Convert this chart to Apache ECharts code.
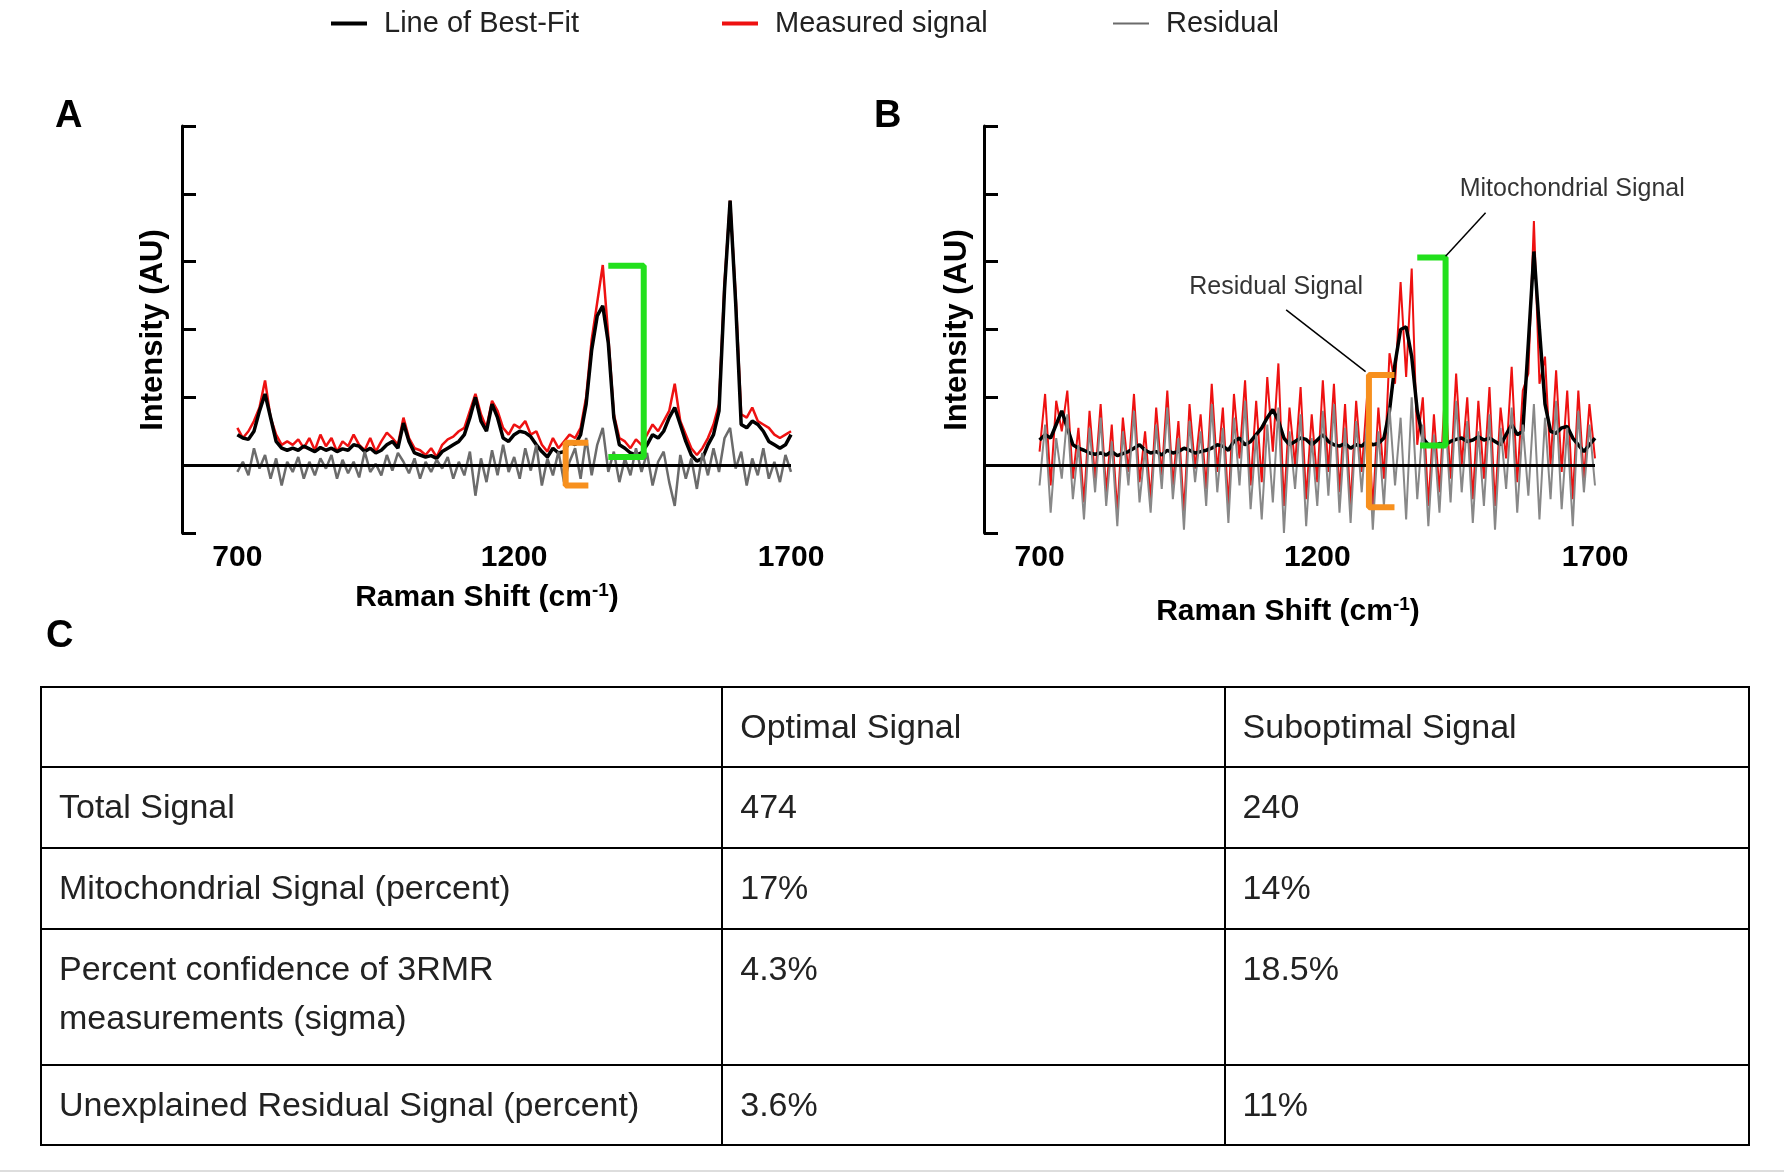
<!DOCTYPE html>
<html>
<head>
<meta charset="UTF-8">
<script src="https://cdn.jsdelivr.net/npm/echarts@6/dist/echarts.min.js"></script>
<title>Raman spectra</title>
<style>
body { margin:0; background:#fff; font-family:"Liberation Sans", Arial, sans-serif; }
#chart { position:absolute; left:0; top:0; width:1784px; height:1176px; }
#tbl { position:absolute; left:40px; top:686px; width:1710px; border-collapse:collapse; font-size:34px; color:#222; }
#tbl td { border:2px solid #000; padding:14px 0 0 17px; vertical-align:top; line-height:49px; box-sizing:border-box; }
#foot { position:absolute; left:0; top:1170px; width:1784px; height:2px; background:#ddd; }
</style>
</head>
<body>
<div id="chart"></div>
<table id="tbl"></table>
<div id="foot"></div>
<script>
// sampled every 10 cm-1 from 700 to 1700
var shift = [];
for (var s = 700; s <= 1700; s += 10) shift.push(s);

var fitA = [0.45,0.40,0.38,0.50,0.80,1.05,0.70,0.35,0.25,0.22,
  0.25,0.22,0.28,0.24,0.20,0.26,0.22,0.25,0.20,0.24,
  0.22,0.30,0.28,0.20,0.25,0.18,0.22,0.30,0.35,0.25,
  0.62,0.35,0.18,0.15,0.12,0.14,0.10,0.20,0.25,0.30,
  0.35,0.45,0.70,1.00,0.65,0.50,0.90,0.70,0.40,0.35,
  0.45,0.50,0.48,0.42,0.30,0.20,0.12,0.25,0.18,0.20,
  0.35,0.30,0.45,0.90,1.70,2.20,2.35,1.80,0.70,0.30,
  0.25,0.18,0.15,0.18,0.30,0.45,0.40,0.50,0.70,0.85,
  0.60,0.35,0.15,0.06,0.10,0.30,0.45,0.80,2.60,3.90,
  2.40,0.60,0.55,0.65,0.60,0.50,0.35,0.30,0.25,0.30,0.45];
var measA = [0.55,0.40,0.50,0.65,0.85,1.25,0.70,0.45,0.30,0.35,
  0.30,0.38,0.25,0.40,0.22,0.45,0.28,0.40,0.20,0.35,
  0.28,0.45,0.30,0.22,0.40,0.20,0.35,0.48,0.40,0.30,
  0.70,0.40,0.25,0.22,0.15,0.25,0.12,0.30,0.38,0.42,
  0.50,0.55,0.80,1.05,0.75,0.55,0.95,0.80,0.55,0.45,
  0.60,0.55,0.65,0.45,0.50,0.30,0.20,0.40,0.25,0.35,
  0.45,0.40,0.55,1.00,1.85,2.40,2.95,1.90,0.75,0.40,
  0.35,0.25,0.38,0.30,0.45,0.60,0.50,0.65,0.80,1.20,
  0.65,0.45,0.25,0.15,0.25,0.40,0.60,0.90,2.70,3.90,
  2.50,0.75,0.70,0.85,0.65,0.60,0.55,0.45,0.40,0.45,0.50];
var residA = [-0.10,0.05,-0.15,0.25,-0.05,0.15,-0.20,0.10,-0.30,0.05,
  -0.10,0.12,-0.20,0.05,-0.15,0.10,-0.05,0.15,-0.20,0.08,
  -0.12,0.05,-0.18,0.20,-0.10,0.02,-0.15,0.15,-0.08,0.18,
  0.05,-0.12,0.10,-0.20,0.05,-0.10,0.08,-0.05,0.12,-0.20,
  0.05,-0.15,0.20,-0.45,0.10,-0.25,0.22,-0.15,0.30,-0.10,
  0.12,-0.20,0.25,-0.08,0.30,-0.30,0.10,-0.15,0.20,-0.25,
  0.05,0.25,-0.20,0.40,-0.15,0.30,0.55,-0.10,0.20,-0.25,
  0.10,-0.15,0.25,-0.10,0.18,-0.30,0.05,0.20,-0.25,-0.60,
  0.15,-0.20,0.10,-0.35,0.18,-0.15,0.25,-0.10,0.40,0.55,
  -0.05,0.20,-0.30,0.10,-0.15,0.25,-0.20,0.05,-0.25,0.15,-0.10];

var fitB = [0.37,0.45,0.40,0.60,0.80,0.55,0.30,0.25,0.22,0.18,
  0.16,0.18,0.15,0.20,0.14,0.17,0.20,0.25,0.30,0.22,
  0.18,0.20,0.15,0.22,0.18,0.20,0.25,0.22,0.18,0.20,
  0.22,0.25,0.30,0.28,0.22,0.35,0.40,0.30,0.35,0.45,
  0.55,0.70,0.82,0.65,0.40,0.30,0.35,0.40,0.38,0.30,
  0.37,0.45,0.35,0.30,0.28,0.32,0.25,0.30,0.28,0.35,
  0.30,0.32,0.40,0.80,1.50,2.00,2.04,1.60,0.80,0.40,
  0.30,0.28,0.32,0.30,0.35,0.38,0.40,0.35,0.37,0.42,
  0.37,0.40,0.35,0.30,0.45,0.60,0.45,0.50,1.80,3.15,
  2.00,0.90,0.50,0.47,0.55,0.57,0.40,0.30,0.20,0.30,0.40];
var measB = [0.20,1.05,-0.30,0.95,0.50,1.10,-0.20,0.55,-0.55,0.80,
  -0.20,0.90,-0.40,0.60,-0.70,0.70,-0.10,1.05,-0.25,0.50,
  -0.50,0.85,-0.15,1.10,-0.30,0.65,-0.70,0.90,-0.05,0.75,
  -0.35,1.20,-0.10,0.85,-0.60,1.05,0.10,1.25,-0.30,0.95,
  -0.25,1.30,0.20,1.50,-0.60,0.85,0.00,1.15,-0.50,0.75,
  -0.25,1.25,-0.10,1.20,-0.40,0.90,-0.60,0.95,-0.10,1.05,
  -0.65,0.85,-0.20,1.65,1.20,2.70,1.30,2.90,0.30,1.00,
  -0.60,0.75,-0.40,1.10,-0.20,1.35,0.00,1.00,-0.50,0.95,
  -0.20,1.15,-0.60,0.85,0.10,1.45,-0.25,1.10,1.35,3.60,
  1.20,1.60,0.00,1.40,-0.10,1.10,-0.50,1.10,-0.20,0.90,0.10];
var residB = [-0.30,0.60,-0.70,0.40,-0.20,0.75,-0.50,0.30,-0.80,0.55,
  -0.40,0.70,-0.60,0.35,-0.90,0.50,-0.30,0.80,-0.55,0.25,
  -0.70,0.60,-0.35,0.85,-0.50,0.40,-0.95,0.65,-0.25,0.50,
  -0.60,0.90,-0.40,0.55,-0.85,0.70,-0.30,0.95,-0.65,0.45,
  -0.80,0.60,-0.55,0.85,-1.00,0.50,-0.35,0.75,-0.90,0.40,
  -0.60,0.80,-0.45,0.90,-0.70,0.55,-0.85,0.65,-0.40,0.70,
  -0.95,0.50,-0.60,0.85,-0.30,0.70,-0.80,1.00,-0.50,0.60,
  -0.90,0.45,-0.70,0.80,-0.55,0.95,-0.40,0.65,-0.85,0.50,
  -0.60,0.75,-0.95,0.55,-0.35,0.85,-0.70,0.60,-0.45,0.90,
  -0.80,0.70,-0.50,0.95,-0.65,0.55,-0.90,0.80,-0.40,0.60,-0.30];

// annotation brackets (data coordinates)
var orangeA = [[1334,0.33],[1293,0.33],[1293,-0.30],[1334,-0.30]];
var greenA = [[1370,2.94],[1434,2.94],[1434,0.12],[1370,0.12]];
var orangeB = [[1339,1.33],[1293,1.33],[1293,-0.62],[1339,-0.62]];
var greenB = [[1380,3.06],[1431,3.06],[1431,0.29],[1385,0.29]];
var leaderRes = [[1287,1.38],[1144,2.29]];
var leaderMito = [[1431,3.08],[1503,3.72]];
var notes = [[1126,2.62,'Residual Signal'],[1659,4.07,'Mitochondrial Signal']];

var xTicks = [700, 1200, 1700];
var tableRows = [
  ['', 'Optimal Signal', 'Suboptimal Signal'],
  ['Total Signal', '474', '240'],
  ['Mitochondrial Signal (percent)', '17%', '14%'],
  ['Percent confidence of 3RMR<br>measurements (sigma)', '4.3%', '18.5%'],
  ['Unexplained Residual Signal (percent)', '3.6%', '11%']
];
var rowHeights = [80, 81, 81, 136, 80];
var colWidths = [682, 503, 525];

var html = '';
tableRows.forEach(function(r, i) {
  html += '<tr style="height:' + rowHeights[i] + 'px">';
  r.forEach(function(c, j) { html += '<td style="width:' + colWidths[j] + 'px">' + c + '</td>'; });
  html += '</tr>';
});
document.getElementById('tbl').innerHTML = html;

function pairs(ys) { return shift.map(function(x, i) { return [x, ys[i]]; }); }
var F = '"Liberation Sans", Arial, sans-serif';

function xAx(i) {
  return {
    type: 'value', gridIndex: i, min: 600, max: 1700, interval: 100,
    axisLine: { show: false }, axisTick: { show: false }, splitLine: { show: false },
    axisLabel: { customValues: xTicks, margin: 10, color: '#000', fontWeight: 'bold', fontSize: 30, fontFamily: F,
      formatter: function(v) { return String(v); } }
  };
}
function yAx(i) {
  return {
    type: 'value', gridIndex: i, min: -1, max: 5, interval: 1,
    axisLine: { show: true, lineStyle: { color: '#000', width: 3 } },
    axisTick: { show: true, inside: true, length: 14, lineStyle: { color: '#000', width: 3 } },
    axisLabel: { show: false }, splitLine: { show: false }
  };
}
function line(name, i, ys, color, width, z) {
  return { name: name, type: 'line', xAxisIndex: i, yAxisIndex: i, data: pairs(ys), showSymbol: false,
    color: color, lineStyle: { color: color, width: width }, z: z, silent: true };
}
function bracket(i, pts, color) {
  return { type: 'line', xAxisIndex: i, yAxisIndex: i, data: pts, showSymbol: false, silent: true,
    lineStyle: { color: color, width: 6 }, z: 10 };
}
function zeroLine(i) {
  return { type: 'line', xAxisIndex: i, yAxisIndex: i, data: [], silent: true,
    markLine: { symbol: 'none', silent: true, label: { show: false },
      lineStyle: { color: '#000', width: 3, type: 'solid' }, data: [{ yAxis: 0 }] }, z: 1 };
}

var chart = echarts.init(document.getElementById('chart'));
var legendText = { color: '#222', fontSize: 29, fontFamily: F, padding: [0, 0, 0, 12] };
chart.setOption({
  animation: false,
  legend: [
    { data: ['Line of Best-Fit'], left: 326, top: 4, itemWidth: 36, itemHeight: 4, icon: 'rect', textStyle: legendText },
    { data: ['Measured signal'], left: 717, top: 4, itemWidth: 36, itemHeight: 4, icon: 'rect', textStyle: legendText },
    { data: ['Residual'], left: 1108, top: 4, itemWidth: 36, itemHeight: 2, icon: 'rect', textStyle: legendText }
  ],
  grid: [
    { left: 182, top: 126, width: 609, height: 407 },
    { left: 984, top: 126, width: 611, height: 407 }
  ],
  xAxis: [xAx(0), xAx(1)],
  yAxis: [yAx(0), yAx(1)],
  series: [
    zeroLine(0),
    line('Measured signal', 0, measA, '#ee1111', 2.5, 2),
    line('Line of Best-Fit', 0, fitA, '#000000', 3.5, 3),
    line('Residual', 0, residA, '#6b6b6b', 2.5, 4),
    bracket(0, orangeA, '#f7901e'),
    bracket(0, greenA, '#22e01c'),
    zeroLine(1),
    line('Measured signal', 1, measB, '#ee1111', 2, 2),
    line('Line of Best-Fit', 1, fitB, '#000000', 3.5, 3),
    line('Residual', 1, residB, '#888888', 2, 4),
    bracket(1, orangeB, '#f7901e'),
    bracket(1, greenB, '#22e01c'),
    { type: 'line', xAxisIndex: 1, yAxisIndex: 1, data: leaderRes, showSymbol: false, silent: true, lineStyle: { color: '#000', width: 1.5 }, z: 10 },
    { type: 'line', xAxisIndex: 1, yAxisIndex: 1, data: leaderMito, showSymbol: false, silent: true, lineStyle: { color: '#000', width: 1.5 }, z: 10 },
    { type: 'scatter', xAxisIndex: 1, yAxisIndex: 1, symbolSize: 0, silent: true, z: 11,
      data: notes.map(function(n) { return { value: [n[0], n[1]], label: { formatter: n[2] } }; }),
      label: { show: true, position: 'inside', color: '#000', fontSize: 25, fontFamily: F } }
  ],
  graphic: [
    { type: 'text', left: 55, top: 98, style: { text: 'A', font: 'bold 38px ' + F, fill: '#000' } },
    { type: 'text', left: 874, top: 98, style: { text: 'B', font: 'bold 38px ' + F, fill: '#000' } },
    { type: 'text', left: 46, top: 618, style: { text: 'C', font: 'bold 38px ' + F, fill: '#000' } },
    { type: 'text', x: 153, y: 330, rotation: Math.PI / 2, style: { text: 'Intensity (AU)', font: 'bold 31px ' + F, fill: '#000', align: 'center', verticalAlign: 'middle' } },
    { type: 'text', x: 957, y: 330, rotation: Math.PI / 2, style: { text: 'Intensity (AU)', font: 'bold 31px ' + F, fill: '#000', align: 'center', verticalAlign: 'middle' } },
    { type: 'text', x: 487, y: 598, style: { text: '{a|Raman Shift (cm}{s|-1}{a|)}', align: 'center', verticalAlign: 'middle',
      rich: { a: { font: 'bold 30px ' + F, fill: '#000' }, s: { font: 'bold 19px ' + F, fill: '#000', verticalAlign: 'top', padding: [0, 0, 14, 0] } } } },
    { type: 'text', x: 1288, y: 612, style: { text: '{a|Raman Shift (cm}{s|-1}{a|)}', align: 'center', verticalAlign: 'middle',
      rich: { a: { font: 'bold 30px ' + F, fill: '#000' }, s: { font: 'bold 19px ' + F, fill: '#000', verticalAlign: 'top', padding: [0, 0, 14, 0] } } } }
  ]
});
</script>
</body>
</html>
